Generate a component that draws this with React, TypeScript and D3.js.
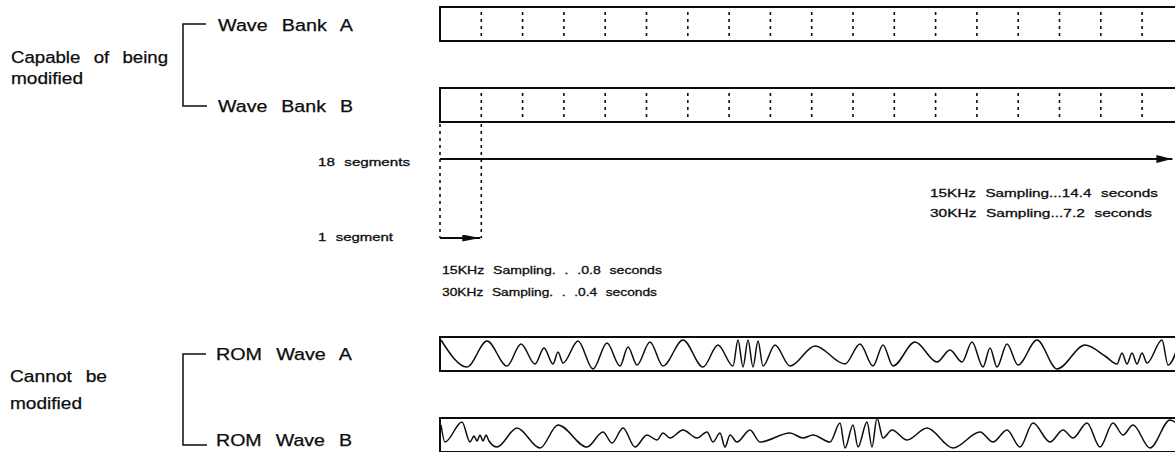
import React from "react";
import * as d3 from "d3";

// ---------- data ----------
const SEGMENT_COUNT = 18;
const bankNames = ["Wave Bank A", "Wave Bank B"];
const romNames = ["ROM Wave A", "ROM Wave B"];
const modifiableLabel = ["Capable of being", "modified"];
const fixedLabel = ["Cannot be", "modified"];
const segmentLabels = ["18 segments", "1 segment"];
const oneSegmentTimes = ["15KHz Sampling. . .0.8 seconds", "30KHz Sampling. . .0.4 seconds"];
const allSegmentTimes = ["15KHz Sampling...14.4 seconds", "30KHz Sampling...7.2 seconds"];

// ROM waveforms: [sample position, amplitude] at each peak / trough
const romWaveA: [number, number][] = [
  [1, 14], [27, -13], [47, 13], [67, -12], [81, 10], [95, -10], [104, 6], [113, -10],
  [118, 2], [123, -9], [138, 13], [153, -15], [167, 11], [180, -12], [188, 7], [197, -11],
  [210, 12], [223, -12], [243, 14], [263, -13], [278, 9], [293, -12], [298, 14], [303, -13],
  [308, 14], [313, -13], [318, 13], [323, -12], [335, 9], [350, -12], [375, 8], [405, -10],
  [420, 10], [433, -12], [443, 9], [453, -12], [475, 12], [497, -8], [510, 4], [522, -8],
  [532, 12], [543, -13], [550, 6], [557, -13], [567, 10], [578, -11], [597, 14], [617, -15],
  [645, 9], [665, -2], [677, -10], [682, 1], [687, -10], [692, 1], [697, -10], [702, 1],
  [707, -9], [722, 14], [728, -11], [740, 14],
];
const romWaveB: [number, number][] = [
  [1, 10], [5, -7], [22, 13], [30, -7], [34, -1], [37, -6], [40, 0], [43, -6], [46, 0],
  [49, -6], [57, -12], [77, 7], [100, -13], [118, 10], [147, -12], [163, 3], [172, -8],
  [183, 7], [195, -12], [207, 0], [217, -5], [223, 2], [230, -3], [243, 5], [257, -3],
  [267, 3], [273, -7], [280, 2], [285, -12], [290, 0], [297, -7], [310, 5], [320, -7],
  [350, 2], [363, -3], [373, 0], [390, -7], [400, 12], [405, -13], [413, 10], [418, -12],
  [427, 13], [432, -12], [437, 17], [443, -3], [452, 5], [467, -5], [487, 7], [513, -13],
  [540, 3], [553, -7], [567, 5], [580, -12], [593, 12], [610, -7], [623, 5], [633, -3],
  [647, 12], [660, -12], [673, 12], [683, 0], [693, 10], [710, -13], [730, 15], [740, 9],
];
const romWaves = [romWaveA, romWaveB];

// ---------- layout ----------
const W = 1175;
const H = 452;
const BOX_H = 34;
const bankTops = [7, 88];
const romTops = [337, 418];
const FONT = "'Liberation Sans', Arial, sans-serif";
const INK = "#0d0d0d";

export default function App() {
  const x = d3.scaleLinear().domain([0, SEGMENT_COUNT]).range([440, 440 + SEGMENT_COUNT * 41.3]);
  const waveX = d3.scaleLinear().domain([0, 743]).range([440, 1183]);
  const boundaries = d3.range(1, SEGMENT_COUNT);

  const arrowY = 159;
  const oneArrowY = 238;
  const belowTop = bankTops[1] + BOX_H;

  const bigText = (t: string, xx: number, yy: number, len: number, key?: any) => (
    <text key={key} x={xx} y={yy} fontSize={16} fontFamily={FONT} fill={INK}
      stroke={INK} strokeWidth={0.25}
      style={{ wordSpacing: "7px" }}
      dominantBaseline="central" textLength={len} lengthAdjust="spacingAndGlyphs">{t}</text>
  );
  const smallText = (t: string, xx: number, yy: number, len: number, key?: any) => (
    <text key={key} x={xx} y={yy} fontSize={11.5} fontFamily={FONT} fill={INK}
      stroke={INK} strokeWidth={0.3}
      style={{ wordSpacing: "4px" }}
      dominantBaseline="central" textLength={len} lengthAdjust="spacingAndGlyphs">{t}</text>
  );

  return (
    <svg width={W} height={H} style={{ position: "absolute", left: 0, top: 0, display: "block", background: "#fff" }}>
      <defs>
        <marker id="arrowLong" markerUnits="userSpaceOnUse" markerWidth={16} markerHeight={8}
          refX={16} refY={4} orient="auto">
          <path d="M0,0 L16,4 L0,8 Z" fill={INK} />
        </marker>
        <marker id="arrowShort" markerUnits="userSpaceOnUse" markerWidth={18} markerHeight={7}
          refX={18} refY={3.5} orient="auto">
          <path d="M0,0 L18,3.5 L0,7 Z" fill={INK} />
        </marker>
        {romTops.map((t, i) => (
          <clipPath id={`romclip${i}`} key={i}>
            <rect x={x(0)} y={t} width={W - x(0)} height={BOX_H} />
          </clipPath>
        ))}
      </defs>

      {/* left group labels */}
      {bigText(modifiableLabel[0], 11, 57, 157)}
      {bigText(modifiableLabel[1], 11, 78, 72)}
      {bigText(fixedLabel[0], 10, 376, 97)}
      {bigText(fixedLabel[1], 10, 403, 72)}

      {/* brackets */}
      {[[24, 106], [354, 445]].map(([a, b], i) => (
        <path key={i} d={`M206,${a} H183 V${b} H207`} fill="none" stroke={INK} strokeWidth={1.5} />
      ))}

      {/* bank labels + boxes */}
      {bankNames.map((n, i) => bigText(n, 218, bankTops[i] + BOX_H / 2 + 1, 135, "bn" + i))}
      {romNames.map((n, i) => bigText(n, 216, romTops[i] + BOX_H / 2 + (i === 1 ? 5 : 0), 136, "rn" + i))}

      {bankTops.map((t, i) => (
        <g key={i}>
          <rect x={x(0)} y={t} width={x(SEGMENT_COUNT) - x(0)} height={BOX_H}
            fill="none" stroke={INK} strokeWidth={2} />
          {boundaries.map((b) => (
            <line key={b} x1={x(b)} x2={x(b)} y1={t + 5} y2={t + BOX_H - 4}
              stroke={INK} strokeWidth={1.6} strokeDasharray="3 4" />
          ))}
        </g>
      ))}

      {/* segment extent guides below Wave Bank B */}
      {[0, 1].map((b) => (
        <line key={b} x1={x(b)} x2={x(b)} y1={belowTop + 2} y2={oneArrowY}
          stroke={INK} strokeWidth={1.6} strokeDasharray="3 4" />
      ))}
      <line x1={x(0)} x2={x(SEGMENT_COUNT) - 11} y1={arrowY} y2={arrowY} stroke={INK} strokeWidth={2}
        markerEnd="url(#arrowLong)" />
      <line x1={x(0)} x2={x(1) - 1} y1={oneArrowY} y2={oneArrowY} stroke={INK} strokeWidth={2}
        markerEnd="url(#arrowShort)" />

      {smallText(segmentLabels[0], 318, 162, 92)}
      {smallText(segmentLabels[1], 318, 237, 75)}
      {oneSegmentTimes.map((t, i) => smallText(t, 442, 270 + i * 22, i === 0 ? 220 : 215, "os" + i))}
      {allSegmentTimes.map((t, i) => smallText(t, 930, 193 + i * 20, i === 0 ? 228 : 222, "as" + i))}

      {/* ROM boxes with waveforms */}
      {romTops.map((t, i) => {
        const y = d3.scaleLinear().domain([-17, 17]).range([t + BOX_H, t]);
        const line = d3.line<[number, number]>()
          .x((d) => waveX(d[0]))
          .y((d) => y(d[1]))
          .curve(d3.curveMonotoneX);
        return (
          <g key={i}>
            <rect x={x(0)} y={t} width={x(SEGMENT_COUNT) - x(0)} height={BOX_H}
              fill="none" stroke={INK} strokeWidth={2} />
            <path d={line(romWaves[i]) || ""} fill="none" stroke={INK} strokeWidth={1.5}
              clipPath={`url(#romclip${i})`} />
          </g>
        );
      })}
    </svg>
  );
}
